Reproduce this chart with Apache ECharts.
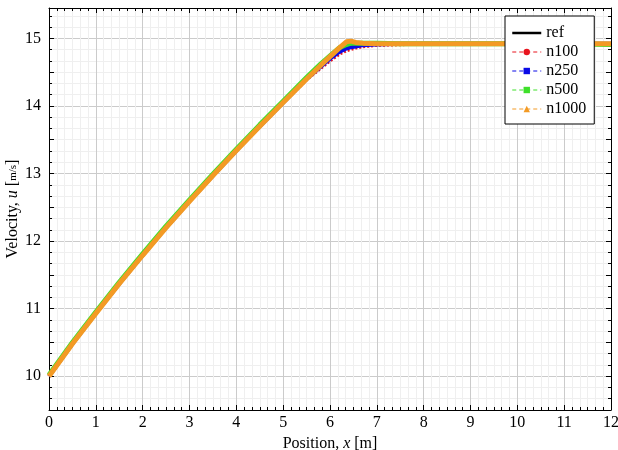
<!DOCTYPE html>
<html>
<head>
<meta charset="utf-8">
<script src="https://cdn.jsdelivr.net/npm/echarts@6/dist/echarts.min.js"></script>
<style>
  html, body { margin: 0; padding: 0; background: #fff; }
  #chart { width: 618px; height: 450px; }
</style>
</head>
<body>
<div id="chart"></div>
<script>
// positions along the pipe (m)
const xs = [0, 0.5, 1, 1.5, 2, 2.5, 3, 3.5, 4, 4.5, 5, 5.5, 5.8, 6.0, 6.2, 6.35, 6.45, 6.55, 6.7, 7.0, 7.5, 8, 9, 10, 11, 12]

// velocity values (m/s)
const refU   = [10.00, 10.48, 10.93, 11.37, 11.79, 12.20, 12.59, 12.97, 13.34, 13.70, 14.05, 14.40, 14.60, 14.73, 14.86, 14.93, 14.92, 14.92, 14.92, 14.92, 14.92, 14.92, 14.92, 14.92, 14.92, 14.92]
const n100U  = [10.00, 10.48, 10.93, 11.37, 11.79, 12.20, 12.59, 12.97, 13.34, 13.70, 14.05, 14.39, 14.56, 14.67, 14.77, 14.82, 14.84, 14.86, 14.88, 14.90, 14.91, 14.92, 14.92, 14.92, 14.92, 14.92]
const n250U  = [10.00, 10.48, 10.93, 11.37, 11.79, 12.20, 12.59, 12.97, 13.34, 13.70, 14.05, 14.40, 14.58, 14.70, 14.80, 14.85, 14.87, 14.88, 14.90, 14.91, 14.92, 14.92, 14.92, 14.92, 14.92, 14.92]
const n500U  = [10.02, 10.50, 10.95, 11.39, 11.81, 12.22, 12.61, 12.99, 13.36, 13.72, 14.07, 14.42, 14.62, 14.74, 14.86, 14.91, 14.93, 14.93, 14.93, 14.93, 14.92, 14.92, 14.92, 14.92, 14.92, 14.91]
const n1000U = [10.00, 10.48, 10.93, 11.37, 11.79, 12.20, 12.59, 12.97, 13.34, 13.70, 14.05, 14.40, 14.60, 14.73, 14.86, 14.95, 14.96, 14.94, 14.93, 14.92, 14.92, 14.92, 14.92, 14.92, 14.92, 14.92]

const xTicks = [0, 1, 2, 3, 4, 5, 6, 7, 8, 9, 10, 11, 12]
const yTicks = [10, 11, 12, 13, 14, 15]

const serif = 'Liberation Serif'

function pairs (ys) {
    return xs.map((x, i) => [x, ys[i]])
}

const chart = echarts.init(document.getElementById('chart'), null, { renderer: 'canvas' })

// shared look of the frame axes
const axisLineBase = { show: true, onZero: false, lineStyle: { color: '#000', width: 1 } }
const majorTick = { show: true, inside: true, length: 5, lineStyle: { color: '#000' } }

// y axis runs in half steps so min can stay a multiple of the interval
const yMin = 9.5
const yMax = 15.45

const option = {
    animation: false,
    backgroundColor: '#fff',
    grid: { left: 49, right: 7, top: 8, bottom: 40, containLabel: false, outerBoundsMode: 'none' },
    legend: {
        orient: 'vertical',
        left: 505,
        top: 16,
        padding: [9, 8, 7, 6],
        backgroundColor: '#fff',
        borderColor: '#000',
        borderWidth: 1,
        borderRadius: 0,
        itemWidth: 29,
        itemHeight: 8,
        itemGap: 3,
        textStyle: { fontFamily: serif, fontSize: 16, lineHeight: 16, color: '#000' },
        data: [
            { name: 'ref', itemStyle: { opacity: 0 }, lineStyle: { type: 'solid', width: 2.5 } },
            { name: 'n100', lineStyle: { type: [4, 3], width: 1 } },
            { name: 'n250', lineStyle: { type: [4, 3], width: 1 } },
            { name: 'n500', lineStyle: { type: [4, 3], width: 1 } },
            { name: 'n1000', lineStyle: { type: [4, 3], width: 1 } }
        ]
    },
    xAxis: [
        {
            type: 'value',
            min: 0,
            max: 12,
            interval: 1,
            name: 'Position, {i|x} [m]',
            nameLocation: 'middle',
            nameGap: 24,
            nameTextStyle: {
                fontFamily: serif, fontSize: 16, color: '#000',
                rich: { i: { fontFamily: serif, fontStyle: 'italic', fontSize: 16 } }
            },
            axisLine: axisLineBase,
            axisTick: majorTick,
            minorTick: { show: true, splitNumber: 6, length: 3, lineStyle: { color: '#000' } },
            axisLabel: {
                fontFamily: serif, fontSize: 16, color: '#000', margin: 5,
                formatter: (v) => xTicks.indexOf(v) >= 0 ? String(v) : ''
            },
            splitLine: { show: true, lineStyle: { color: '#cbcbcb', width: 1 } },
            minorSplitLine: { show: true, lineStyle: { color: '#efefef', width: 1 } }
        },
        {
            type: 'value',
            position: 'top',
            min: 0,
            max: 12,
            interval: 1,
            axisLine: axisLineBase,
            axisTick: majorTick,
            minorTick: { show: true, splitNumber: 6, length: 3, lineStyle: { color: '#000' } },
            axisLabel: { show: false },
            splitLine: { show: false }
        }
    ],
    yAxis: [
        {
            type: 'value',
            min: yMin,
            max: yMax,
            interval: 0.5,
            name: 'Velocity, {i|u} [{s|m/s}]',
            nameLocation: 'middle',
            nameGap: 28,
            nameMoveOverlap: false,
            nameTextStyle: {
                fontFamily: serif, fontSize: 16, color: '#000',
                rich: {
                    i: { fontFamily: serif, fontStyle: 'italic', fontSize: 16 },
                    s: { fontFamily: serif, fontSize: 11 }
                }
            },
            axisLine: axisLineBase,
            axisTick: majorTick,
            minorTick: { show: true, splitNumber: 3, length: 3, lineStyle: { color: '#000' } },
            axisLabel: {
                fontFamily: serif, fontSize: 16, color: '#000', margin: 8,
                formatter: (v) => yTicks.indexOf(v) >= 0 ? String(v) : ''
            },
            // half-step lines get the minor colour, whole units the major one
            splitLine: { show: true, lineStyle: { color: ['#efefef', '#cbcbcb'], width: 1 } },
            minorSplitLine: { show: true, lineStyle: { color: '#efefef', width: 1 } }
        },
        {
            type: 'value',
            position: 'right',
            min: yMin,
            max: yMax,
            interval: 0.5,
            axisLine: axisLineBase,
            axisTick: majorTick,
            minorTick: { show: true, splitNumber: 3, length: 3, lineStyle: { color: '#000' } },
            axisLabel: { show: false },
            splitLine: { show: false }
        }
    ],
    series: [
        {
            name: 'ref', type: 'line', data: pairs(refU),
            symbol: 'none', color: '#000',
            lineStyle: { width: 2.5, color: '#000' }
        },
        {
            name: 'n100', type: 'line', data: pairs(n100U),
            symbol: 'circle', symbolSize: 5, showSymbol: false, color: '#e8141e',
            lineStyle: { width: 3.5, color: '#e8141e', type: [2, 2] }
        },
        {
            name: 'n250', type: 'line', data: pairs(n250U),
            symbol: 'rect', symbolSize: 5, showSymbol: false, color: '#0a0ae6',
            lineStyle: { width: 4, color: '#0a0ae6' }
        },
        {
            name: 'n500', type: 'line', data: pairs(n500U),
            symbol: 'rect', symbolSize: 5, showSymbol: false, color: '#3ee02a',
            lineStyle: { width: 5, color: '#3ee02a' }
        },
        {
            name: 'n1000', type: 'line', data: pairs(n1000U),
            symbol: 'triangle', symbolSize: 6, showSymbol: false, color: '#f39a24',
            lineStyle: { width: 5, color: '#f39a24' }
        }
    ]
}

chart.setOption(option)
</script>
</body>
</html>
